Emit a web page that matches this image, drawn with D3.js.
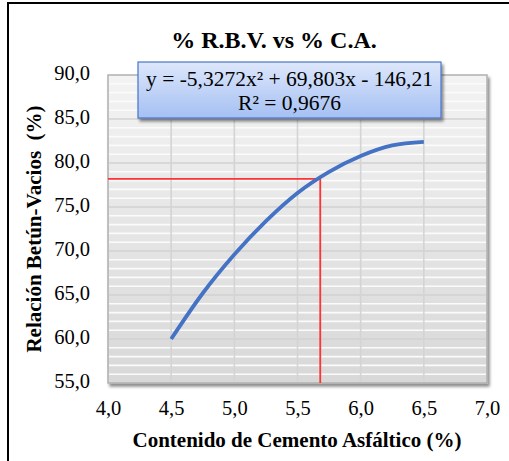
<!DOCTYPE html>
<html><head><meta charset="utf-8">
<script src="https://cdn.jsdelivr.net/npm/d3@7"></script>
<style>body{margin:0;background:#fff}svg{display:block}text{font-family:"Liberation Serif","Times New Roman",serif}</style>
</head><body>
<svg id="c" width="509" height="461"></svg>
<script>
const title = "% R.B.V. vs % C.A.";
const xTitle = "Contenido de Cemento Asfáltico (%)";
const yTitle = "Relación Betún-Vacios  (%)";
const eqLine1 = "y = -5,3272x² + 69,803x - 146,21";
const eqLine2 = "R² = 0,9676";
const xTicks = [4.0, 4.5, 5.0, 5.5, 6.0, 6.5, 7.0];
const yTicks = [55, 60, 65, 70, 75, 80, 85, 90];
const curveX = [4.5, 4.75, 5.0, 5.25, 5.5, 5.75, 6.0, 6.25, 6.5];
const curveY = [60.0, 65.2, 69.6, 73.4, 76.6, 79.0, 80.8, 82.0, 82.4];
const optX = [5.68];
const optY = [78.2];

const svg = d3.select("#c");
const fmt = v => d3.format(".1f")(v).replace(".", ",");
const L = 108, R = 487, T = 75, B = 383;
const x = d3.scaleLinear().domain([4, 7]).range([L, R]);
const y = d3.scaleLinear().domain([55, 90]).range([B, T]);
const SERIF = '"Liberation Serif","Times New Roman",serif';

// outer border
svg.append("rect").attr("x", 8).attr("y", 3).attr("width", 520).attr("height", 480)
  .attr("fill", "none").attr("stroke", "#000").attr("stroke-width", 2);

const defs = svg.append("defs");
const g1 = defs.append("linearGradient").attr("id", "bg").attr("x1", 0).attr("y1", 0).attr("x2", 0).attr("y2", 1);
g1.append("stop").attr("offset", "0%").attr("stop-color", "#f3f3f3");
g1.append("stop").attr("offset", "100%").attr("stop-color", "#d8d8d8");
const g2 = defs.append("linearGradient").attr("id", "eq").attr("x1", 0).attr("y1", 0).attr("x2", 0).attr("y2", 1);
g2.append("stop").attr("offset", "0%").attr("stop-color", "#dde7fb");
g2.append("stop").attr("offset", "100%").attr("stop-color", "#a5c0f3");
const f = defs.append("filter").attr("id", "sh").attr("x", "-10%").attr("y", "-10%").attr("width", "130%").attr("height", "130%");
f.append("feGaussianBlur").attr("in", "SourceAlpha").attr("stdDeviation", 1.5).attr("result", "b");
f.append("feOffset").attr("in", "b").attr("dx", 2).attr("dy", 3).attr("result", "o");
f.append("feComponentTransfer").attr("in", "o").attr("result", "o2")
  .append("feFuncA").attr("type", "linear").attr("slope", 0.45);
const fm = f.append("feMerge");
fm.append("feMergeNode").attr("in", "o2");
fm.append("feMergeNode").attr("in", "SourceGraphic");

// plot area
svg.append("rect").attr("x", L).attr("y", T).attr("width", R - L).attr("height", B - T)
  .attr("fill", "url(#bg)").attr("stroke", "#b0b0b0").attr("stroke-width", 1.5).attr("filter", "url(#sh)");

// gridlines
const minor = d3.range(56, 90).filter(v => v % 5 !== 0);
svg.append("g").selectAll("line").data(minor).join("line")
  .attr("x1", L + 1).attr("x2", R - 1).attr("y1", d => y(d)).attr("y2", d => y(d))
  .attr("stroke", "#fbfbfb").attr("stroke-width", 1.6);
svg.append("g").selectAll("line").data(yTicks.slice(1, -1)).join("line")
  .attr("x1", L + 1).attr("x2", R - 1).attr("y1", d => y(d)).attr("y2", d => y(d))
  .attr("stroke", "#d2d2d2").attr("stroke-width", 1.6);
svg.append("g").selectAll("line").data(xTicks.slice(1, -1)).join("line")
  .attr("x1", d => x(d)).attr("x2", d => x(d)).attr("y1", T + 1).attr("y2", B - 1)
  .attr("stroke", "#d4d4d4").attr("stroke-width", 1.6);

// axes labels
const yAxis = d3.axisLeft(y).tickValues(yTicks).tickFormat(fmt).tickSize(0).tickPadding(18);
const ya = svg.append("g").attr("transform", `translate(${L},0)`).call(yAxis)
  .attr("font-family", null).attr("font-size", null);
ya.select(".domain").remove();
ya.selectAll("text").style("font-family", SERIF).attr("font-size", 20.5).attr("fill", "#000").attr("dy", "0.24em");
const xAxis = d3.axisBottom(x).tickValues(xTicks).tickFormat(fmt).tickSize(0).tickPadding(17);
const xa = svg.append("g").attr("transform", `translate(0,${B})`).call(xAxis)
  .attr("font-family", null).attr("font-size", null);
xa.select(".domain").remove();
xa.selectAll("text").style("font-family", SERIF).attr("font-size", 20.5).attr("fill", "#000");

// red lines
svg.append("line").attr("x1", x(4)).attr("x2", x(optX[0])).attr("y1", y(optY[0])).attr("y2", y(optY[0]))
  .attr("stroke", "#ff3333").attr("stroke-width", 1.8);
svg.append("line").attr("x1", x(optX[0])).attr("x2", x(optX[0])).attr("y1", y(optY[0])).attr("y2", y(55))
  .attr("stroke", "#ff3333").attr("stroke-width", 1.8);

// curve
const pts = curveX.map((v, i) => [v, curveY[i]]);
svg.append("path").datum(pts)
  .attr("d", d3.line().x(d => x(d[0])).y(d => y(d[1])).curve(d3.curveMonotoneX))
  .attr("fill", "none").attr("stroke", "#4472c4").attr("stroke-width", 3.8);

// equation box
const eg = svg.append("g");
eg.append("rect").attr("x", 138).attr("y", 62).attr("width", 303).attr("height", 56)
  .attr("fill", "url(#eq)").attr("stroke", "#4a76c8").attr("stroke-width", 1.2).attr("filter", "url(#sh)");
eg.append("text").attr("x", 289.5).attr("y", 86).attr("text-anchor", "middle")
  .style("font-family", SERIF).attr("font-size", 21.5).text(eqLine1);
eg.append("text").attr("x", 289.5).attr("y", 110).attr("text-anchor", "middle")
  .style("font-family", SERIF).attr("font-size", 21.5).text(eqLine2);

// titles
svg.append("text").attr("x", 274).attr("y", 48).attr("text-anchor", "middle")
  .style("font-family", SERIF).attr("font-weight", "bold").attr("font-size", 24).text(title);
svg.append("text").attr("x", 297).attr("y", 447).attr("text-anchor", "middle")
  .style("font-family", SERIF).attr("font-weight", "bold").attr("font-size", 21).text(xTitle);
svg.append("text").attr("transform", "translate(41,229) rotate(-90)").attr("text-anchor", "middle")
  .style("font-family", SERIF).attr("font-weight", "bold").attr("font-size", 21)
  .style("white-space", "pre").text(yTitle);
</script>
</body></html>
